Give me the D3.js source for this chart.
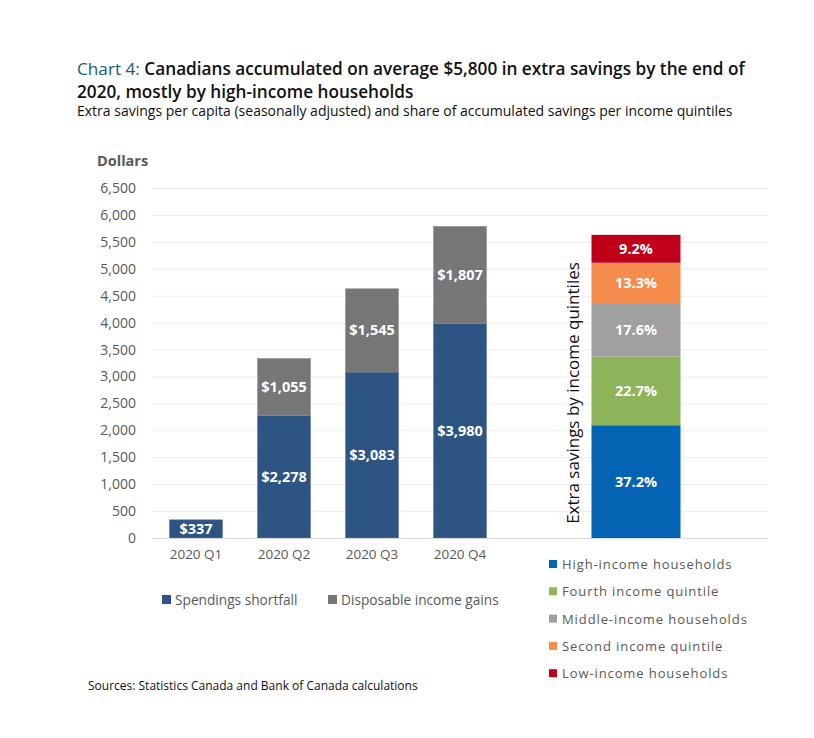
<!DOCTYPE html>
<html><head><meta charset="utf-8">
<script src="https://cdn.jsdelivr.net/npm/d3@7"></script>
<style>body{margin:0;background:#fff;} svg{display:block;font-family:"Open Sans",sans-serif;}</style>
</head><body><svg id="c" width="814" height="738"></svg>
<script>
const quarters = ["2020 Q1","2020 Q2","2020 Q3","2020 Q4"];
const spendingShortfall = [337, 2278, 3083, 3980];
const incomeGains = [-20, 1055, 1545, 1807];
const yTicks = [0,500,1000,1500,2000,2500,3000,3500,4000,4500,5000,5500,6000,6500];
const quintileNames = ["High-income households","Fourth income quintile","Middle-income households","Second income quintile","Low-income households"];
const quintileShares = [37.2, 22.7, 17.6, 13.3, 9.2];
const quintileColors = ["#0563b4","#8db45a","#a0a0a0","#f68c4b","#c0001a"];
const quintileBarHeight = 5630;
const seriesNames = ["Spendings shortfall","Disposable income gains"];
const seriesColors = ["#2e5483","#767676"];

const svg = d3.select("#c");
const bands = ["2020 Q1","2020 Q2","2020 Q3","2020 Q4","gap","quint","end"];
const x = d3.scaleBand().domain(bands).range([152, 768]).paddingInner(0.4).paddingOuter(0.2);
const y = d3.scaleLinear().domain([0, 6500]).range([538, 188]);
const grey = "#595959";

// title
const t = svg.append("text").attr("x",77).attr("y",75).attr("font-size",17.2).attr("font-weight",600);
t.append("tspan").attr("fill","#1b5c6c").attr("font-weight",500).text("Chart 4: ");
t.append("tspan").attr("fill","#111").text("Canadians accumulated on average $5,800 in extra savings by the end of");
svg.append("text").attr("x",77).attr("y",98).attr("font-size",17.2).attr("font-weight",600).attr("fill","#111")
  .text("2020, mostly by high-income households");
svg.append("text").attr("x",77).attr("y",116).attr("font-size",14).attr("fill","#111")
  .text("Extra savings per capita (seasonally adjusted) and share of accumulated savings per income quintiles");

// gridlines
svg.append("g").selectAll("line").data(yTicks.slice(1)).join("line")
  .attr("x1",152).attr("x2",768).attr("y1",d=>y(d)+0.5).attr("y2",d=>y(d)+0.5)
  .attr("stroke","#ececec").attr("stroke-width",1);

// y axis labels
const yAxis = d3.axisLeft(y).tickValues(yTicks).tickFormat(d3.format(",")).tickSize(0).tickPadding(0);
const ya = svg.append("g").attr("transform","translate(136,0)").call(yAxis);
ya.select(".domain").remove();
ya.selectAll("text").attr("font-size",14).attr("fill",grey).attr("font-family","'Open Sans',sans-serif");
svg.append("text").attr("x",97).attr("y",166).attr("font-size",14.5).attr("font-weight",700).attr("fill",grey).text("Dollars");

// stacked bars
const rows = quarters.map((q,i)=>({q, a:spendingShortfall[i], b:incomeGains[i]}));
const g = svg.append("g");
const fmt = d3.format(",");
rows.forEach(r=>{
  const bx = x(r.q), bw = x.bandwidth();
  g.append("rect").attr("x",bx).attr("width",bw).attr("y",y(r.a)).attr("height",y(0)-y(r.a))
    .attr("fill",seriesColors[0]).attr("stroke","#5a7699").attr("stroke-width",0.6);
  if (r.b >= 0) {
    g.append("rect").attr("x",bx).attr("width",bw).attr("y",y(r.a+r.b)).attr("height",y(r.a)-y(r.a+r.b))
      .attr("fill",seriesColors[1]).attr("stroke","#8f8f8f").attr("stroke-width",0.6);
  } else {
    g.append("rect").attr("x",bx).attr("width",bw).attr("y",y(0)).attr("height",y(r.b)-y(0)).attr("fill",seriesColors[1]);
  }
  g.append("text").attr("x",bx+bw/2).attr("y",(y(0)+y(r.a))/2+5).attr("text-anchor","middle")
    .attr("font-size",14.5).attr("font-weight",700).attr("fill","#fff").text("$"+fmt(r.a));
  if (r.b > 100) {
    g.append("text").attr("x",bx+bw/2).attr("y",(y(r.a)+y(r.a+r.b))/2+5).attr("text-anchor","middle")
      .attr("font-size",14.5).attr("font-weight",700).attr("fill","#fff").text("$"+fmt(r.b));
  }
});

// quintile bar (wider, secondary series)
let cum = 0;
const qw = 89, qx = x("quint") + x.bandwidth()/2 - qw/2;
quintileShares.forEach((s,i)=>{
  const v0 = cum/100*quintileBarHeight, v1 = (cum+s)/100*quintileBarHeight;
  g.append("rect").attr("x",qx).attr("width",qw).attr("y",y(v1)).attr("height",y(v0)-y(v1)).attr("fill",quintileColors[i]);
  g.append("text").attr("x",qx+qw/2).attr("y",(y(v0)+y(v1))/2+5).attr("text-anchor","middle")
    .attr("font-size",14.5).attr("font-weight",700).attr("fill","#fff").text(s.toFixed(1)+"%");
  cum += s;
});
svg.append("text").attr("transform","translate(579,393) rotate(-90)").attr("text-anchor","middle")
  .attr("font-size",17).attr("fill","#111").text("Extra savings by income quintiles");

// x axis
svg.append("line").attr("x1",152).attr("x2",768).attr("y1",538.5).attr("y2",538.5).attr("stroke","#d9d9d9");
svg.append("g").selectAll("text").data(quarters).join("text")
  .attr("x",d=>x(d)+x.bandwidth()/2).attr("y",559).attr("text-anchor","middle")
  .attr("font-size",13.5).attr("fill",grey).text(d=>d);

// left legend
const lx = [162, 328];
seriesNames.forEach((n,i)=>{
  svg.append("rect").attr("x",lx[i]).attr("y",595).attr("width",9).attr("height",9).attr("fill",seriesColors[i]);
  svg.append("text").attr("x",lx[i]+13).attr("y",604.5).attr("font-size",13.7).attr("fill",grey).text(n);
});
// right legend
quintileNames.forEach((n,i)=>{
  const yy = 564 + i*27.3;
  svg.append("rect").attr("x",549).attr("y",yy-4).attr("width",8).attr("height",8).attr("fill",quintileColors[i]);
  svg.append("text").attr("x",562).attr("y",yy+5).attr("font-size",13).attr("letter-spacing",0.9).attr("fill",grey).text(n);
});

svg.append("text").attr("x",88).attr("y",690).attr("font-size",12).attr("fill","#111")
  .text("Sources: Statistics Canada and Bank of Canada calculations");
</script></body></html>
